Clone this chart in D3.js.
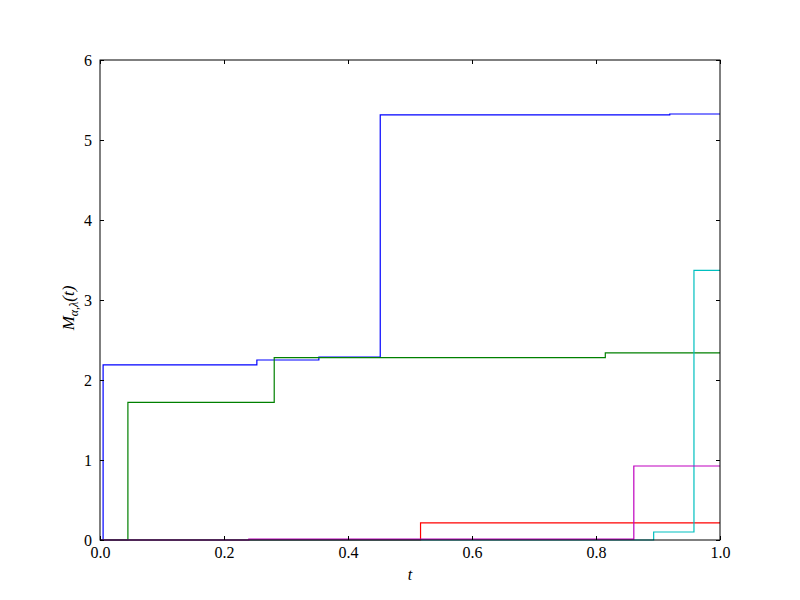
<!DOCTYPE html>
<html>
<head>
<meta charset="utf-8">
<script src="https://cdn.jsdelivr.net/npm/d3@7"></script>
<style>
  body { margin: 0; background: #fff; }
  svg text { font-family: "Liberation Serif", "DejaVu Serif", serif; fill: #000; }
</style>
</head>
<body>
<svg id="chart" width="800" height="600"></svg>
<script>
// step series (t, value), steps-post
var blueSeries = [[0, 0], [0.005, 2.19], [0.253, 2.25], [0.353, 2.285], [0.452, 5.315], [0.919, 5.325], [1, 5.325]];
var greenSeries = [[0, 0], [0.045, 1.72], [0.281, 2.28], [0.815, 2.34], [1, 2.34]];
var redSeries = [[0, 0], [0.517, 0.215], [1, 0.215]];
var cyanSeries = [[0, 0], [0.893, 0.1], [0.958, 3.37], [1, 3.37]];
var magentaSeries = [[0, 0], [0.24, 0.01], [0.861, 0.925], [1, 0.925]];

var seriesList = [blueSeries, greenSeries, redSeries, cyanSeries, magentaSeries];
var colors = ["#0000ff", "#008000", "#ff0000", "#00bfbf", "#bf00bf"];

var xTicks = [0, 0.2, 0.4, 0.6, 0.8, 1.0];
var yTicks = [0, 1, 2, 3, 4, 5, 6];

var svg = d3.select("#chart"),
    margin = {top: 60, right: 80, bottom: 60, left: 100},
    width = +svg.attr("width") - margin.left - margin.right,
    height = +svg.attr("height") - margin.top - margin.bottom;

var x = d3.scaleLinear().domain([0, 1]).range([0, width]);
var y = d3.scaleLinear().domain([0, 6]).range([height, 0]);

var g = svg.append("g")
    .attr("transform", "translate(" + margin.left + "," + margin.top + ")");

var line = d3.line()
    .x(function(d) { return x(d[0]); })
    .y(function(d) { return y(d[1]); })
    .curve(d3.curveStepAfter);

seriesList.forEach(function(s, i) {
  g.append("path")
      .datum(s)
      .attr("fill", "none")
      .attr("stroke", colors[i])
      .attr("stroke-width", 1.2)
      .attr("d", line);
});

// axes, ticks inside on all sides
function styleAxis(sel) {
  sel.select(".domain").remove();
  sel.selectAll(".tick line").attr("stroke", "#000");
  sel.selectAll("text").style("font-size", "16px");
}

g.append("g")
    .attr("transform", "translate(0," + height + ")")
    .call(d3.axisBottom(x).tickValues(xTicks).tickFormat(d3.format(".1f")).tickSizeInner(-4).tickPadding(7))
    .call(styleAxis);

g.append("g")
    .call(d3.axisTop(x).tickValues(xTicks).tickSizeInner(-4).tickFormat(""))
    .call(styleAxis);

g.append("g")
    .call(d3.axisLeft(y).tickValues(yTicks).tickFormat(d3.format("d")).tickSizeInner(-4).tickPadding(8))
    .call(styleAxis);

g.append("g")
    .attr("transform", "translate(" + width + ",0)")
    .call(d3.axisRight(y).tickValues(yTicks).tickSizeInner(-4).tickFormat(""))
    .call(styleAxis);

g.append("rect")
    .attr("width", width)
    .attr("height", height)
    .attr("fill", "none")
    .attr("stroke", "#000")
    .attr("stroke-width", 1);

// axis labels
svg.append("text")
    .attr("x", margin.left + width / 2)
    .attr("y", 580)
    .attr("text-anchor", "middle")
    .style("font-size", "16px")
    .style("font-style", "italic")
    .text("t");

var yl = svg.append("text")
    .attr("transform", "translate(74,308) rotate(-90)")
    .attr("text-anchor", "middle")
    .style("font-size", "17px")
    .style("font-style", "italic");
yl.append("tspan").text("M");
yl.append("tspan").attr("dy", 4).style("font-size", "12px").text("α,λ");
yl.append("tspan").attr("dy", -4).text("(t)");
</script>
</body>
</html>
